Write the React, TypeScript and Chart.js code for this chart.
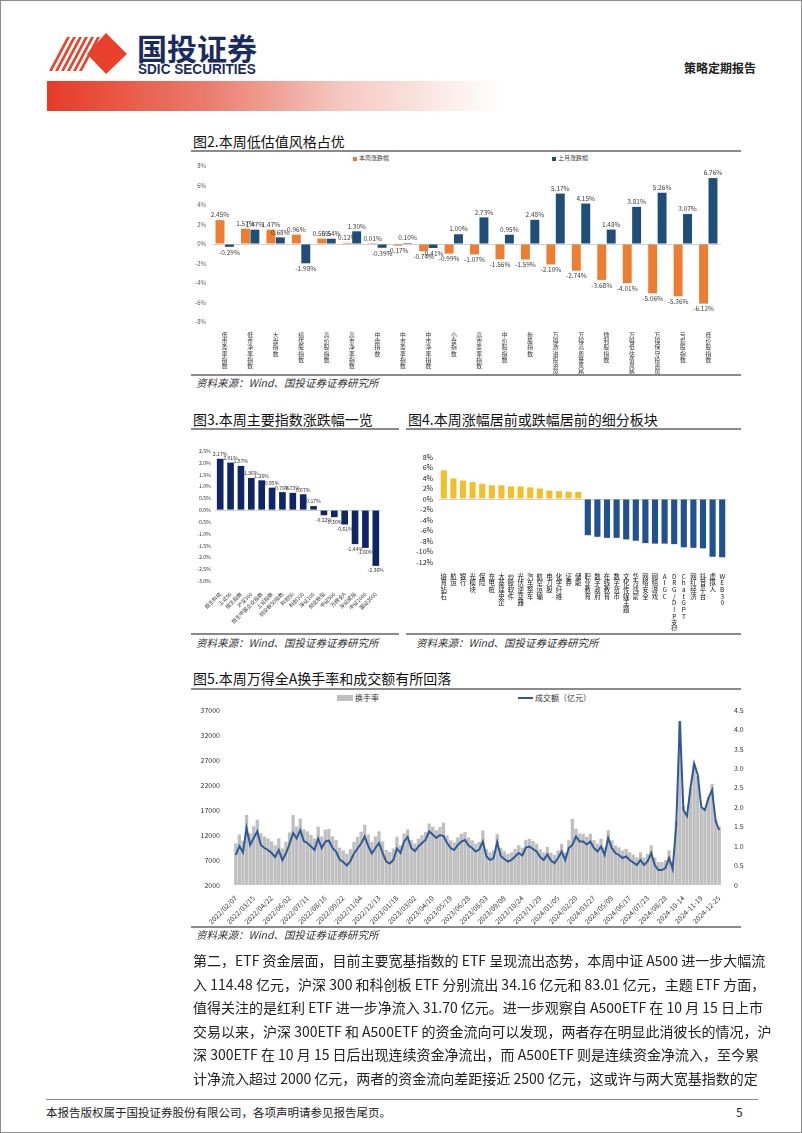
import React, { useEffect, useRef } from 'react';
import { Chart, registerables } from 'chart.js';

Chart.register(...registerables);

const FONT = '"Noto Sans CJK SC", "Noto Sans", sans-serif';
Chart.defaults.font.family = FONT;
Chart.defaults.color = '#404040';

// ---------- Fig 2 data ----------
const styleCats = ['低市盈率指数', '低市净率指数', '大盘指数', '绩优股指数', '高价股指数', '高市净率指数', '中盘指数', '中市盈率指数', '中市净率指数', '小盘指数', '高市盈率指数', '中价股指数', '新股指数', '万得激进投资风格', '万得高质量风格', '微利股指数', '万得低估值风格', '万得保守投资风格', '亏损股指数', '低价股指数'];
const styleWeek = [2.45, 1.57, 1.47, 0.96, 0.55, 0.12, 0.01, -0.17, -0.74, -0.99, -1.07, -1.56, -1.59, -2.10, -2.74, -3.68, -4.01, -5.06, -5.36, -6.12];
const styleLast = [-0.29, 1.47, 0.68, -1.98, 0.54, 1.30, -0.39, 0.10, -0.41, 1.00, 2.73, 0.95, 2.48, 5.17, 4.15, 1.48, 3.81, 5.26, 3.07, 6.76];

// ---------- Fig 3 data ----------
const indexCats = ['恒生科技', '上证50', '恒生指数', '沪深300', '恒生中国企业指数', '上证指数', '创业板50指数', '科创50', '科创100', '深证100', '创业板指', '中证500', '万得全A', '深证成指', '中证1000', '国证2000'];
const indexChg = [2.17, 2.01, 1.87, 1.36, 1.26, 0.95, 0.76, 0.73, 0.67, 0.17, -0.22, -0.30, -0.61, -1.44, -1.60, -2.36];

// ---------- Fig 4 data ----------
const sectorCats = ['培育钻石', '航运', '银行', '光模块', '保险', '充电桩', '大基建央企', '炒股软件', '光伏逆变器', '汽车整车', '航空运输', '电力股', '化学纤维', '证券', '储能', '职业教育', '数字政府', '在线教育', '数字货币', '文化传媒主题', '华为鸿蒙', '网络安全', '网络游戏', 'AIGC', 'DRG/DIP支付', 'ChatGPT', '网红经济', '抖音平台', '虚拟人', 'WEB30'];
const sectorChg = [5.45, 3.9, 3.5, 3.2, 2.9, 2.6, 2.6, 2.4, 2.4, 2.2, 2.0, 1.6, 1.5, 1.4, 1.35, -6.9, -7.2, -7.4, -7.4, -7.7, -7.95, -8.4, -8.5, -8.5, -8.6, -9.2, -9.3, -9.4, -11.0, -11.1];

// ---------- Fig 5 data ----------
const dateTicks = ['2022/02/07', '2022/03/15', '2022/04/22', '2022/06/02', '2022/07/11', '2022/08/16', '2022/09/22', '2022/11/04', '2022/12/13', '2023/01/18', '2023/03/02', '2023/04/10', '2023/05/19', '2023/06/28', '2023/08/03', '2023/09/08', '2023/10/24', '2023/11/29', '2024/01/05', '2024/02/20', '2024/03/27', '2024/05/09', '2024/06/17', '2024/07/23', '2024/08/28', '2024-10-14', '2024-11-19', '2024-12-25'];
const amount = [
  8000, 9800, 8500, 13400, 10000, 11400, 12700, 10000, 9400, 9000,
  8400, 7600, 9000, 7000, 8300, 10200, 12400, 11300, 13000, 10800,
  10400, 9700, 9000, 11300, 9400, 10700, 10900, 9400, 8700, 7100,
  6600, 5900, 6800, 8300, 9300, 10300, 11700, 9800, 8300, 9400,
  10400, 8400, 6700, 6300, 7000, 9300, 8400, 10700, 11600, 9400,
  8800, 9700, 10400, 11000, 12700, 12100, 11400, 12000, 11800, 10400,
  9400, 9000, 10000, 10700, 11000, 9900, 9400, 8700, 9100, 10700,
  7700, 7000, 7400, 10600, 7800, 7200, 6700, 7000, 7700, 8400,
  7900, 9500, 9700, 9200, 8700, 7600, 7000, 8100, 6900, 6400,
  7400, 8700, 7000, 9400, 10000, 11700, 10700, 10700, 10100, 10700,
  9400, 8700, 9700, 8000, 11400, 9400, 8400, 8000, 7400, 7700,
  7000, 6500, 6000, 7000, 6000, 6700, 8400, 6000, 5000, 5000,
  5400, 7400, 5200, 14000, 34800, 17000, 15800, 21500, 26300, 24000,
  17600, 17000, 19400, 21000, 14800, 13000,
];
const turnover = [
  1.07, 1.30, 1.14, 1.80, 1.33, 1.51, 1.68, 1.33, 1.25, 1.20,
  1.12, 1.02, 1.20, 0.94, 1.11, 1.35, 1.80, 1.50, 1.71, 1.43,
  1.38, 1.29, 1.20, 1.50, 1.25, 1.42, 1.44, 1.25, 1.16, 0.96,
  0.89, 0.80, 0.92, 1.11, 1.24, 1.37, 1.55, 1.30, 1.11, 1.25,
  1.38, 1.12, 0.90, 0.85, 0.94, 1.24, 1.02, 1.32, 1.43, 1.15,
  1.07, 1.19, 1.28, 1.36, 1.58, 1.50, 1.41, 1.49, 1.60, 1.28,
  1.15, 1.10, 1.23, 1.32, 1.36, 1.22, 1.15, 1.06, 1.11, 1.40,
  0.93, 0.84, 0.89, 1.31, 0.95, 0.87, 0.80, 0.84, 0.93, 1.02,
  0.96, 1.16, 1.19, 1.13, 1.06, 0.92, 0.84, 0.98, 0.83, 0.77,
  0.89, 1.06, 0.84, 1.15, 1.70, 1.45, 1.32, 1.32, 1.24, 1.32,
  1.15, 1.06, 1.19, 0.97, 1.41, 1.15, 1.02, 0.97, 0.89, 0.93,
  0.84, 0.78, 0.71, 0.84, 0.71, 0.80, 1.02, 0.71, 0.59, 0.59,
  0.64, 0.89, 0.61, 1.64, 4.20, 2.03, 1.87, 2.50, 3.10, 2.80,
  2.00, 1.95, 2.25, 2.60, 1.70, 1.50,
];

const paragraph = [
  '第二，ETF 资金层面，目前主要宽基指数的 ETF 呈现流出态势，本周中证 A500 进一步大幅流',
  '入 114.48 亿元，沪深 300 和科创板 ETF 分别流出 34.16 亿元和 83.01 亿元，主题 ETF 方面，',
  '值得关注的是红利 ETF 进一步净流入 31.70 亿元。进一步观察自 A500ETF 在 10 月 15 日上市',
  '交易以来，沪深 300ETF 和 A500ETF 的资金流向可以发现，两者存在明显此消彼长的情况，沪',
  '深 300ETF 在 10 月 15 日后出现连续资金净流出，而 A500ETF 则是连续资金净流入，至今累',
  '计净流入超过 2000 亿元，两者的资金流向差距接近 2500 亿元，这或许与两大宽基指数的定',
];

// ---------- plugins ----------
const barLabels = {
  id: 'barLabels',
  afterDatasetsDraw(chart: any, _args: any, opts: any) {
    if (!opts || !opts.enabled) return;
    const ctx = chart.ctx;
    ctx.save();
    ctx.font = `${opts.size}px ${FONT}`;
    ctx.fillStyle = opts.color || '#404040';
    ctx.textAlign = 'center';
    chart.data.datasets.forEach((ds: any, i: number) => {
      const meta = chart.getDatasetMeta(i);
      meta.data.forEach((el: any, j: number) => {
        const v = ds.data[j] as number;
        const t = v.toFixed(2) + '%';
        if (v >= 0) {
          ctx.textBaseline = 'bottom';
          ctx.fillText(t, el.x, el.y - 2);
        } else {
          ctx.textBaseline = 'top';
          ctx.fillText(t, el.x, el.y + 2);
        }
      });
    });
    ctx.restore();
  },
};

const zeroGrid = (c: any) => (c.tick && c.tick.value === 0 ? '#d0d0d0' : 'rgba(0,0,0,0)');
const stack = (s: string) => Array.from(s);

function ChartCanvas({ left, top, width, height, make }: any) {
  const ref = useRef<HTMLCanvasElement>(null);
  useEffect(() => {
    const chart = new Chart(ref.current as HTMLCanvasElement, make());
    return () => chart.destroy();
  }, []);
  return (
    <div style={{ position: 'absolute', left, top, width, height }}>
      <canvas ref={ref} />
    </div>
  );
}

const fig2 = (): any => ({
  type: 'bar',
  data: {
    labels: styleCats.map(stack),
    datasets: [
      { label: '本周涨跌幅', data: styleWeek, backgroundColor: '#ED7D31', categoryPercentage: 0.74, barPercentage: 0.95 },
      { label: '上月涨跌幅', data: styleLast, backgroundColor: '#1F4E79', categoryPercentage: 0.74, barPercentage: 0.95 },
    ],
  },
  options: {
    animation: false,
    responsive: true,
    maintainAspectRatio: false,
    layout: { padding: { top: 13, right: 20, left: 0, bottom: 0 } },
    plugins: { legend: { display: false }, tooltip: { enabled: false }, barLabels: { enabled: true, size: 6.5, color: '#404040' } },
    scales: {
      x: {
        grid: { display: false },
        border: { display: false },
        ticks: { autoSkip: false, maxRotation: 0, minRotation: 0, padding: 2, font: { size: 5.8, lineHeight: 1.05 }, color: '#333' },
        afterFit: (s: any) => { s.height = 52; },
      },
      y: {
        min: -8, max: 8,
        border: { display: false },
        grid: { color: zeroGrid, drawTicks: false },
        ticks: { autoSkip: false, stepSize: 2, padding: 6, font: { size: 6 }, color: '#595959', callback: (v: any) => v + '%' },
        afterFit: (s: any) => { s.width = 21; },
      },
    },
  },
  plugins: [barLabels],
});

const fig3 = (): any => ({
  type: 'bar',
  data: {
    labels: indexCats,
    datasets: [{ label: '涨跌幅', data: indexChg, backgroundColor: '#0F2566', categoryPercentage: 0.8, barPercentage: 0.8 }],
  },
  options: {
    animation: false,
    responsive: true,
    maintainAspectRatio: false,
    layout: { padding: { top: 20, right: 18, left: 0, bottom: 0 } },
    plugins: { legend: { display: false }, tooltip: { enabled: false }, barLabels: { enabled: true, size: 5.2, color: '#333' } },
    scales: {
      x: {
        grid: { display: false },
        border: { display: false },
        ticks: { autoSkip: false, maxRotation: 45, minRotation: 45, padding: 2, font: { size: 5.2 }, color: '#333' },
        afterFit: (s: any) => { s.height = 50; },
      },
      y: {
        min: -3, max: 2.5,
        border: { display: false },
        grid: { color: zeroGrid, drawTicks: false },
        ticks: { autoSkip: false, stepSize: 0.5, padding: 4, font: { size: 5.2 }, color: '#333', callback: (v: any) => Number(v).toFixed(1) + '%' },
        afterFit: (s: any) => { s.width = 24; },
      },
    },
  },
  plugins: [barLabels],
});

const fig4 = (): any => ({
  type: 'bar',
  data: {
    labels: sectorCats.map(stack),
    datasets: [{
      label: '涨跌幅',
      data: sectorChg,
      backgroundColor: sectorChg.map((v) => (v >= 0 ? '#F2BF2C' : '#22518F')),
      categoryPercentage: 0.8,
      barPercentage: 0.8,
    }],
  },
  options: {
    animation: false,
    responsive: true,
    maintainAspectRatio: false,
    layout: { padding: { top: 26, right: 14, left: 0, bottom: 0 } },
    plugins: { legend: { display: false }, tooltip: { enabled: false } },
    scales: {
      x: {
        grid: { display: false },
        border: { display: false },
        ticks: { autoSkip: false, maxRotation: 0, minRotation: 0, padding: 3, font: { size: 6.4, lineHeight: 1.04 }, color: '#111' },
        afterFit: (s: any) => { s.height = 69; },
      },
      y: {
        min: -12, max: 8,
        border: { display: false },
        grid: { color: zeroGrid, drawTicks: false },
        ticks: { autoSkip: false, stepSize: 2, padding: 6, font: { size: 7 }, color: '#222', callback: (v: any) => v + '%' },
        afterFit: (s: any) => { s.width = 33; },
      },
    },
  },
});

const dayLabels = amount.map((_, i) => (i % 5 === 0 ? dateTicks[i / 5] : ''));

const fig5 = (): any => ({
  type: 'bar',
  data: {
    labels: dayLabels,
    datasets: [
      { type: 'line', label: '成交额（亿元）', data: amount, yAxisID: 'y', borderColor: '#2F5A96', borderWidth: 2, pointRadius: 0, tension: 0, order: 0 },
      { type: 'bar', label: '换手率', data: turnover, yAxisID: 'y1', backgroundColor: '#bfbfbf', categoryPercentage: 1, barPercentage: 0.92, order: 1 },
    ],
  },
  options: {
    animation: false,
    responsive: true,
    maintainAspectRatio: false,
    layout: { padding: { top: 19, right: 0, left: 0, bottom: 0 } },
    plugins: { legend: { display: false }, tooltip: { enabled: false } },
    scales: {
      x: {
        grid: { display: false },
        border: { display: false },
        ticks: { autoSkip: false, maxRotation: 45, minRotation: 45, padding: 1, font: { size: 7 }, color: '#333' },
        afterFit: (s: any) => { s.height = 42; },
      },
      y: {
        position: 'left',
        min: 2000, max: 37000,
        border: { display: false },
        grid: { display: false },
        ticks: { autoSkip: false, stepSize: 5000, padding: 6, font: { size: 7 }, color: '#333', callback: (v: any) => String(v) },
        afterFit: (s: any) => { s.width = 43; },
      },
      y1: {
        position: 'right',
        min: 0, max: 4.5,
        border: { display: false },
        grid: { display: false },
        ticks: { autoSkip: false, stepSize: 0.5, padding: 5, font: { size: 7 }, color: '#333' },
        afterFit: (s: any) => { s.width = 30; },
      },
    },
  },
});

const abs = (left: number, top: number, extra: any = {}): any => ({ position: 'absolute', left, top, ...extra });
const rule = (left: number, top: number, width: number) => (
  <div style={abs(left, top, { width, height: 2, background: '#8a8a8a' })} />
);
const titleStyle = { fontSize: 14, lineHeight: '20px', color: '#111', whiteSpace: 'nowrap', fontFamily: FONT };
const srcStyle = { fontSize: 10.5, lineHeight: '14px', color: '#333', fontStyle: 'italic', whiteSpace: 'nowrap', fontFamily: FONT };
const SRC = '资料来源：Wind、国投证券证券研究所';

export default function App() {
  return (
    <div style={{ position: 'absolute', left: 0, top: 0, width: 802, height: 1133, boxSizing: 'border-box', border: '1px solid #8c8c8c', background: '#fff', overflow: 'hidden', fontFamily: FONT }}>
      {/* header */}
      <svg style={abs(46, 30)} width="84" height="44" viewBox="0 0 84 44">
        {[0, 1, 2, 3, 4, 5].map((i) => (
          <polygon key={i} points={`${2 + i * 6},40 ${5 + i * 6},40 ${23 + i * 6},6 ${20 + i * 6},6`} fill="#E8402A" />
        ))}
        <polygon points="40,23 59,2 80,23 59,43" fill="#E8402A" />
      </svg>
      <div style={abs(136, 28, { fontSize: 30, fontWeight: 700, color: '#1B2B5E', lineHeight: '36px', letterSpacing: 0 })}>国投证券</div>
      <div style={abs(137, 61, { fontSize: 14, fontWeight: 700, color: '#1B2B5E', lineHeight: '14px', transform: 'scaleX(0.97)', transformOrigin: 'left top', fontFamily: '"Liberation Sans", Arial, sans-serif', whiteSpace: 'nowrap' })}>SDIC SECURITIES</div>
      <div style={abs(683, 59, { fontSize: 12, fontWeight: 700, color: '#222', lineHeight: '16px' })}>策略定期报告</div>
      <div style={abs(46, 80, { width: 455, height: 30, background: 'linear-gradient(to right, #E63B25 0%, #EA7C6C 35%, #F5C8C0 65%, #FFFFFF 100%)' })} />

      {/* Fig 2 */}
      <div style={abs(192, 130, titleStyle)}>图2.本周低估值风格占优</div>
      {rule(190, 149, 550)}
      <div style={abs(352, 156, { width: 4, height: 4, background: '#ED7D31' })} />
      <div style={abs(358, 152, { fontSize: 6, lineHeight: '10px', color: '#404040' })}>本周涨跌幅</div>
      <div style={abs(551, 156, { width: 4, height: 4, background: '#1F4E79' })} />
      <div style={abs(557, 152, { fontSize: 6, lineHeight: '10px', color: '#404040' })}>上月涨跌幅</div>
      <ChartCanvas left={190} top={152} width={550} height={221} make={fig2} />
      {rule(190, 373, 550)}
      <div style={abs(195, 375, srcStyle)}>{SRC}</div>

      {/* Fig 3 */}
      <div style={abs(192, 408, titleStyle)}>图3.本周主要指数涨跌幅一览</div>
      {rule(190, 427, 208)}
      <ChartCanvas left={190} top={430} width={208} height={200} make={fig3} />
      {rule(190, 632, 208)}
      <div style={abs(195, 635, srcStyle)}>{SRC}</div>

      {/* Fig 4 */}
      <div style={abs(407, 408, titleStyle)}>图4.本周涨幅居前或跌幅居前的细分板块</div>
      {rule(405, 427, 335)}
      <ChartCanvas left={405} top={430} width={335} height={200} make={fig4} />
      {rule(405, 632, 335)}
      <div style={abs(415, 635, srcStyle)}>{SRC}</div>

      {/* Fig 5 */}
      <div style={abs(192, 667, titleStyle)}>图5.本周万得全A换手率和成交额有所回落</div>
      {rule(190, 687, 550)}
      <div style={abs(336, 694, { width: 16, height: 6, background: '#bfbfbf' })} />
      <div style={abs(354, 691, { fontSize: 8, lineHeight: '12px', color: '#333' })}>换手率</div>
      <div style={abs(517, 696, { width: 15, height: 2, background: '#2F5A96' })} />
      <div style={abs(534, 691, { fontSize: 8, lineHeight: '12px', color: '#333' })}>成交额（亿元）</div>
      <ChartCanvas left={190} top={690} width={560} height={236} make={fig5} />
      {rule(190, 925, 550)}
      <div style={abs(195, 927, srcStyle)}>{SRC}</div>

      {/* paragraph */}
      {paragraph.map((line, i) => (
        <div key={i} style={abs(192, 948 + i * 23.5, { width: 548, fontSize: 14, lineHeight: '22px', color: '#222', textAlign: 'justify', textAlignLast: 'justify', whiteSpace: 'nowrap', fontFamily: '"Liberation Sans Narrow", "Noto Sans CJK SC", sans-serif' })}>{line}</div>
      ))}

      {/* footer */}
      <div style={abs(45, 1098, { width: 712, height: 1, background: '#8a8a8a' })} />
      <div style={abs(45, 1103, { fontSize: 11.5, lineHeight: '16px', color: '#222', whiteSpace: 'nowrap' })}>本报告版权属于国投证券股份有限公司，各项声明请参见报告尾页。</div>
      <div style={abs(735, 1103, { fontSize: 12, lineHeight: '16px', color: '#222' })}>5</div>
    </div>
  );
}
